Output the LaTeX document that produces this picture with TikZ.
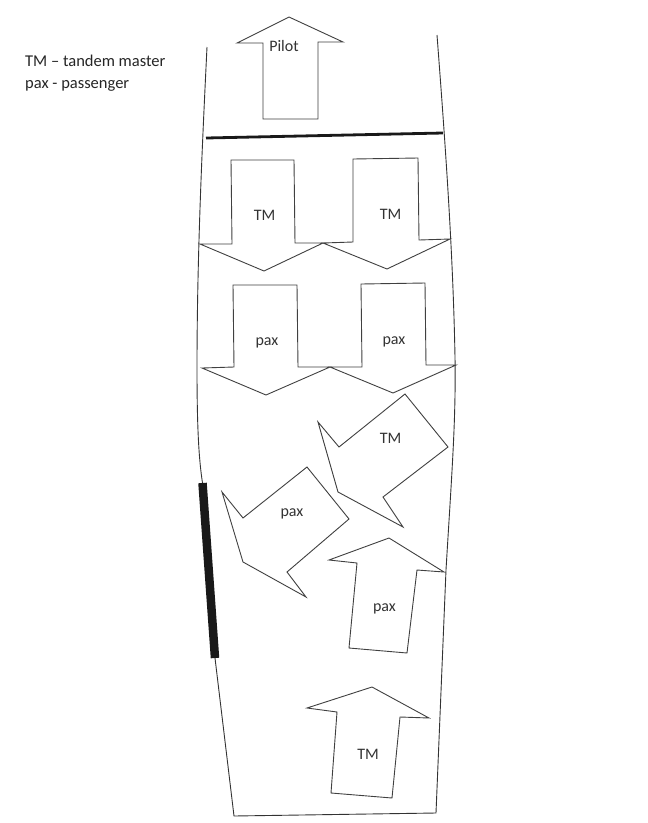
\documentclass[tikz,border=0pt]{standalone}
\usepackage{fontspec}
\setmainfont{Carlito}
\begin{document}
\begin{tikzpicture}[x=1pt,y=-1pt,
  outl/.style={draw=black!75,line width=0.9pt,line join=miter},
  wall/.style={draw=black!80,line width=0.9pt},
  lbl/.style={anchor=base,inner sep=0pt,text=black!80,font=\fontsize{16}{19}\selectfont},
  leg/.style={anchor=base west,inner sep=0pt,text=black!85,font=\fontsize{16.5}{20}\selectfont}]
\useasboundingbox[fill=white] (0,0) rectangle (648,823);
% legend
\node[leg] (leg1) at (25,66) {TM – tandem master};
\node[leg] (leg2) at (25,88) {pax - passenger};
% walls
\draw[wall] (207,47) .. controls (203,130) and (197,250) .. (197,368)
  .. controls (197,430) and (199,460) .. (202.5,483) -- (215,658) -- (234,816) -- (436,813)
  -- (446,570) .. controls (452,470) and (456,420) .. (455,357)
  .. controls (453,250) and (445,140) .. (437,35);
% partition line
\draw[draw=black!90,line width=2.8pt] (206,138) -- (443,133);
% door bar
\draw[draw=black!90,line width=8.5pt] (202.5,483) -- (215,658);
% pilot
\draw[outl] (263,119) -- (263,43) -- (237,43) -- (289,17) -- (343,42) -- (318,42) -- (318,119) -- cycle;
\node[lbl] (pilot) at (284,51) {Pilot};
% TM row
\draw[outl] (231,160) -- (294,160) -- (295,243) -- (323,243) -- (264,271) -- (200,244) -- (232,244) -- cycle;
\node[lbl] (tm1) at (264.5,220) {TM};
\draw[outl] (353,159) -- (418,158) -- (419,240) -- (450,239) -- (387,269) -- (323,243) -- (353,242) -- cycle;
\node[lbl] (tm2) at (390.5,219) {TM};
% pax row
\draw[outl] (233,285) -- (297,285) -- (298,367) -- (330,367) -- (266,395) -- (202,368) -- (234,367) -- cycle;
\node[lbl] (pax1) at (267,345) {pax};
\draw[outl] (361,284) -- (425,283) -- (426,365) -- (456,365) -- (393,393) -- (330,367) -- (362,367) -- cycle;
\node[lbl] (pax2) at (394,344) {pax};
% rotated TM
\draw[outl] (338,492) -- (318,422) -- (339,447) -- (405,394) -- (448,447) -- (383,497) -- (403,527) -- cycle;
\node[lbl] (tm3) at (390.5,443) {TM};
% rotated pax
\draw[outl] (243,562) -- (222,492) -- (243,518) -- (307,467) -- (349,519) -- (287,572) -- (306,597) -- cycle;
\node[lbl] (pax3) at (292,516) {pax};
% upright pax
\draw[outl] (389,538) -- (444,572) -- (417,570) -- (407,653) -- (349,648) -- (357,563) -- (329,560) -- cycle;
\node[lbl] (pax4) at (384.5,611) {pax};
% upright TM
\draw[outl] (372,687) -- (429,718) -- (400,717) -- (392,798) -- (331,793) -- (337,712) -- (307,708) -- cycle;
\node[lbl] (tm4) at (368,759) {TM};
\end{tikzpicture}
\end{document}
